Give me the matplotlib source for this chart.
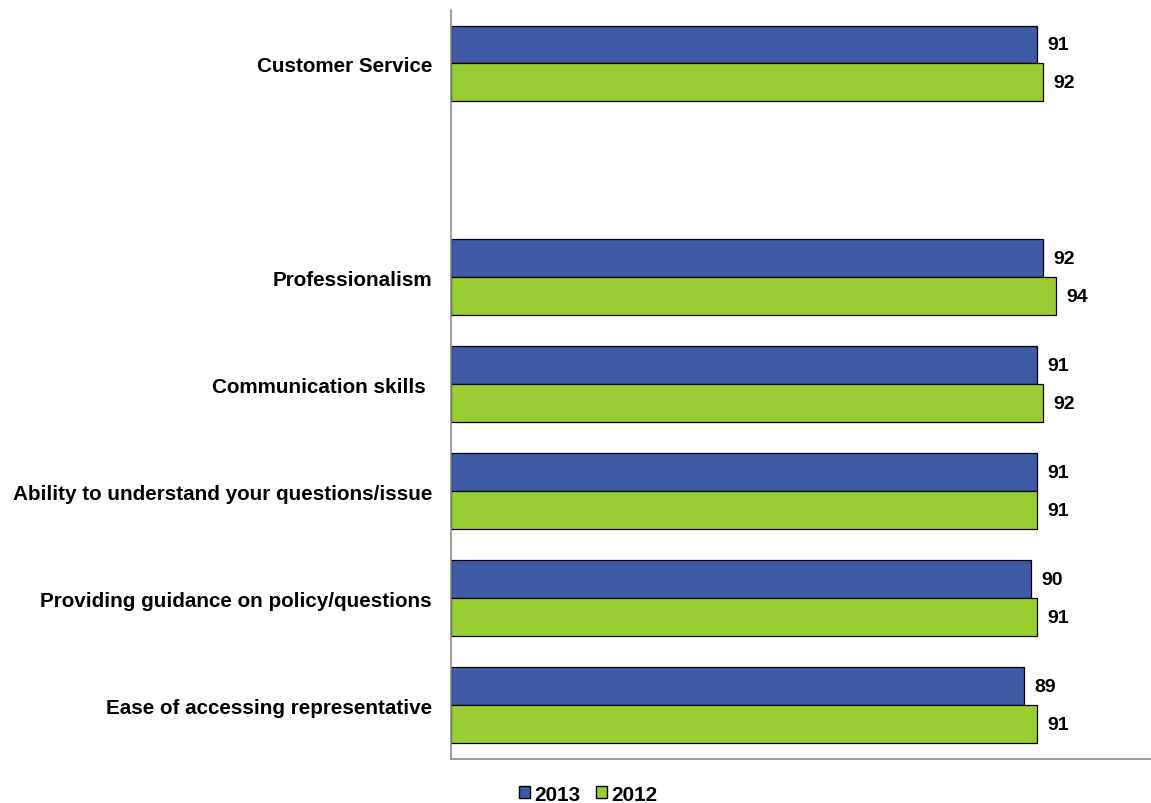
import matplotlib.pyplot as plt
from matplotlib.patches import Patch

categories = ["Customer Service", "", "Professionalism", "Communication skills ",
              "Ability to understand your questions/issue",
              "Providing guidance on policy/questions",
              "Ease of accessing representative"]
vals_2013 = [91, None, 92, 91, 91, 90, 89]
vals_2012 = [92, None, 94, 92, 91, 91, 91]

blue = "#3E5BA5"
green = "#9ACD32"

plt.rcParams['font.family'] = ['Liberation Sans', 'DejaVu Sans']

fig = plt.figure(figsize=(11.51, 8.04), dpi=100)
ax = fig.add_axes([0.3918, 0.0553, 0.62, 0.9310])

h = 0.355
for i, (a, b) in enumerate(zip(vals_2013, vals_2012)):
    if a is None:
        continue
    ax.barh(i - h / 2, a, height=h, color=blue, edgecolor="black", linewidth=0.9)
    ax.barh(i + h / 2, b, height=h, color=green, edgecolor="black", linewidth=0.9)
    ax.text(a + 1.6, i - h / 2, str(a), va="center", ha="left",
            fontsize=14, fontweight="bold")
    ax.text(b + 1.6, i + h / 2, str(b), va="center", ha="left",
            fontsize=14, fontweight="bold")

ax.set_ylim(6.5, -0.5)
ax.set_xlim(0, 110.8)
ax.set_yticks(range(len(categories)))
ax.set_yticklabels(categories, fontsize=14.9, fontweight="bold")
ax.tick_params(axis="y", length=0, pad=13.7)
ax.set_xticks([])

for s in ["top", "right"]:
    ax.spines[s].set_visible(False)
for s in ["left", "bottom"]:
    ax.spines[s].set_color("#8C8C8C")
    ax.spines[s].set_linewidth(1.2)

handles = [Patch(facecolor=blue, edgecolor="black", label="2013"),
           Patch(facecolor=green, edgecolor="black", label="2012")]
fig.legend(handles=handles, loc="center", bbox_to_anchor=(0.511, 0.011),
           ncol=2, frameon=False, prop={"weight": "bold", "size": 14.9},
           handlelength=0.5, handleheight=0.5, handletextpad=0.2,
           columnspacing=0.8)

fig.savefig("out.png", dpi=100)
